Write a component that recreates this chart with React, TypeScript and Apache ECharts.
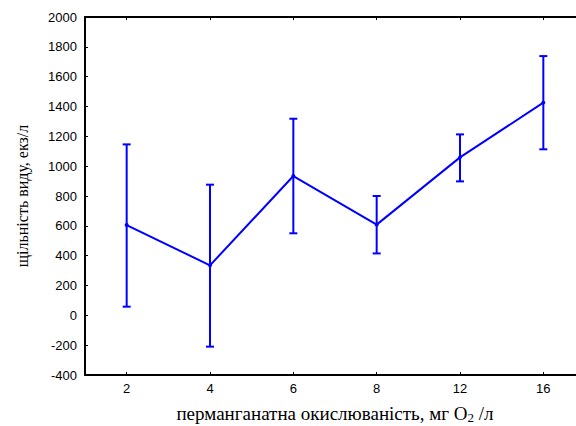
import React, { useEffect, useRef } from 'react';
import * as echarts from 'echarts';

const categories = ['2', '4', '6', '8', '12', '16'];
const means = [605, 335, 934, 608, 1059, 1426];
const lowers = [58, -210, 550, 415, 898, 1113];
const uppers = [1146, 876, 1318, 800, 1213, 1738];

const BLUE = '#0000ff';

export default function App() {
  const ref = useRef<HTMLDivElement>(null);
  useEffect(() => {
    if (!ref.current) return;
    const chart = echarts.init(ref.current, null, { renderer: 'svg' });
    chart.setOption({
      animation: false,
      backgroundColor: '#ffffff',
      grid: { left: 85, top: 17, width: 500, height: 358, containLabel: false, outerBoundsMode: 'none' },
      xAxis: [
        {
          type: 'category',
          data: categories,
          position: 'bottom',
          boundaryGap: true,
          axisLine: { show: true, onZero: false, lineStyle: { color: '#000', width: 2 } },
          axisTick: { show: true, alignWithLabel: true, inside: true, length: 3, lineStyle: { color: '#000', width: 1 } },
          axisLabel: { color: '#000', fontFamily: 'Liberation Sans', fontSize: 13, margin: 7 },
          splitLine: { show: false },
          name: '{a|перманганатна окислюваність, мг O}{s|2}{a| /л}',
          nameLocation: 'middle',
          nameGap: 27,
          nameTextStyle: {
            rich: {
              a: { fontFamily: 'Liberation Serif', fontSize: 19, color: '#000' },
              s: { fontFamily: 'Liberation Serif', fontSize: 13, color: '#000', verticalAlign: 'bottom', padding: [9, 0, 0, 0] },
            },
          },
        },
        {
          type: 'category',
          data: categories,
          position: 'top',
          boundaryGap: true,
          axisLine: { show: true, onZero: false, lineStyle: { color: '#000', width: 2 } },
          axisTick: { show: true, alignWithLabel: true, inside: true, length: 3, lineStyle: { color: '#000', width: 1 } },
          axisLabel: { show: false },
          splitLine: { show: false },
        },
      ],
      yAxis: {
        type: 'value',
        min: -400,
        max: 2000,
        interval: 200,
        axisLine: { show: true, onZero: false, lineStyle: { color: '#000', width: 2 } },
        axisTick: { show: true, inside: true, length: 3, lineStyle: { color: '#000', width: 1 } },
        axisLabel: {
          color: '#000',
          fontFamily: 'Liberation Sans',
          fontSize: 13,
          margin: 8,
          formatter: (v: number) => String(v),
        },
        splitLine: { show: false },
        name: 'щільність виду, екз/л',
        nameLocation: 'middle',
        nameRotate: 90,
        nameGap: 55,
        nameTextStyle: { fontFamily: 'Liberation Serif', fontSize: 16, color: '#000' },
      },
      series: [
        {
          type: 'line',
          data: means,
          xAxisIndex: 0,
          symbol: 'circle',
          symbolSize: 4,
          itemStyle: { color: BLUE },
          lineStyle: { color: BLUE, width: 2 },
          z: 3,
        },
        {
          type: 'custom',
          xAxisIndex: 0,
          data: categories.map((_, i) => [i, lowers[i], uppers[i]]),
          renderItem: (params: any, api: any) => {
            const x = api.value(0);
            const lo = api.coord([x, api.value(1)]);
            const hi = api.coord([x, api.value(2)]);
            const w = 4;
            const st = { stroke: BLUE, lineWidth: 2 };
            return {
              type: 'group',
              children: [
                { type: 'line', shape: { x1: hi[0], y1: hi[1], x2: lo[0], y2: lo[1] }, style: st },
                { type: 'line', shape: { x1: hi[0] - w, y1: hi[1], x2: hi[0] + w, y2: hi[1] }, style: st },
                { type: 'line', shape: { x1: lo[0] - w, y1: lo[1], x2: lo[0] + w, y2: lo[1] }, style: st },
              ],
            };
          },
          z: 2,
        },
      ],
    });
    return () => chart.dispose();
  }, []);
  return (
    <div
      ref={ref}
      style={{ position: 'fixed', left: 0, top: 0, width: 576, height: 426, background: '#fff' }}
    />
  );
}
